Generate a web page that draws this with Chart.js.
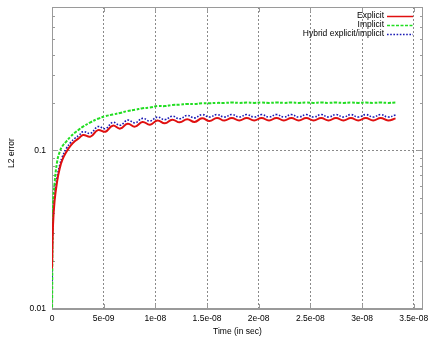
<!DOCTYPE html>
<html>
<head>
<meta charset="utf-8">
<title>L2 error vs time</title>
<script src="https://cdn.jsdelivr.net/npm/chart.js@4.4.1/dist/chart.umd.min.js"></script>
<style>
  html, body { margin: 0; padding: 0; background: #fff; }
  canvas { display: block; }
</style>
</head>
<body>
<canvas id="errChart" width="429" height="337"></canvas>
<script>
// sample times, in ns (axis labels are printed in seconds)
const timeNs = [
  0, 0.1, 0.25, 0.5, 0.75, 1.0, 1.4, 1.8, 2.2, 2.6,
  3.0, 3.72, 4.44, 5.16, 5.88, 6.6, 7.32, 8.04, 8.76, 9.48,
  10.2, 10.92, 11.64, 12.36, 13.08, 13.8, 14.52, 15.24, 15.96, 16.68,
  17.4, 18.12, 18.84, 19.56, 20.28, 21.0, 21.72, 22.44, 23.16, 23.88,
  24.6, 25.32, 26.04, 26.76, 27.48, 28.2, 28.92, 29.64, 30.36, 31.08,
  31.8, 32.52, 33.24
];
const explicitErr = [
  0.018, 0.034, 0.048, 0.064, 0.077, 0.087, 0.098, 0.107, 0.114, 0.119,
  0.125, 0.122, 0.134, 0.131, 0.143, 0.137, 0.147, 0.141, 0.151, 0.145,
  0.154, 0.148, 0.156, 0.150, 0.157, 0.151, 0.159, 0.153, 0.160, 0.154,
  0.160, 0.154, 0.160, 0.154, 0.160, 0.154, 0.160, 0.154, 0.160, 0.154,
  0.160, 0.154, 0.160, 0.154, 0.160, 0.154, 0.160, 0.154, 0.160, 0.154,
  0.160, 0.154, 0.159
];
const implicitErr = [
  0.009, 0.045, 0.062, 0.085, 0.098, 0.106, 0.114, 0.122, 0.129, 0.135,
  0.141, 0.150, 0.158, 0.164, 0.168, 0.172, 0.177, 0.180, 0.184, 0.186,
  0.190, 0.190, 0.193, 0.194, 0.196, 0.196, 0.198, 0.198, 0.199, 0.199,
  0.200, 0.199, 0.200, 0.199, 0.200, 0.199, 0.200, 0.199, 0.200, 0.199,
  0.200, 0.199, 0.200, 0.199, 0.200, 0.199, 0.200, 0.199, 0.200, 0.199,
  0.200, 0.199, 0.200
];
const hybridErr = [
  0.015, 0.036, 0.051, 0.068, 0.081, 0.091, 0.103, 0.112, 0.119, 0.124,
  0.131, 0.128, 0.141, 0.137, 0.150, 0.144, 0.155, 0.149, 0.159, 0.153,
  0.162, 0.156, 0.164, 0.158, 0.166, 0.160, 0.168, 0.162, 0.168, 0.162,
  0.168, 0.162, 0.168, 0.162, 0.168, 0.162, 0.168, 0.162, 0.168, 0.162,
  0.168, 0.162, 0.168, 0.162, 0.168, 0.162, 0.168, 0.162, 0.168, 0.162,
  0.168, 0.162, 0.167
];

const seriesNames = ['Explicit', 'Implicit', 'Hybrid explicit/implicit'];
const xTickValues = [0, 5, 10, 15, 20, 25, 30, 35];
const xTickLabels = ['0', '5e-09', '1e-08', '1.5e-08', '2e-08', '2.5e-08', '3e-08', '3.5e-08'];
const yTickValues = [0.01, 0.1];
const yTickLabels = ['0.01', '0.1'];
const yMinorValues = [0.02, 0.03, 0.04, 0.05, 0.06, 0.07, 0.08, 0.09,
                      0.2, 0.3, 0.4, 0.5, 0.6, 0.7];

const FONT = '"Liberation Sans", Arial, sans-serif';
const frameColor = '#9a9a9a';
const gridColor = '#8a8a8a';

const toPoints = vals => vals.map((v, i) => ({ x: timeNs[i], y: v }));

const lineStyles = [
  { color: '#e01010', width: 2, dash: [] },
  { color: '#22dd22', width: 2, dash: [3, 1.5] },
  { color: '#1a1ab4', width: 1.6, dash: [1.6, 1.6] }
];

// border, inward tick marks and the gnuplot style key
const framePlugin = {
  id: 'gnuFrame',
  beforeDatasetsDraw(chart) {
    const { ctx, chartArea: a, scales: { x, y } } = chart;
    ctx.save();
    ctx.strokeStyle = frameColor;
    ctx.lineWidth = 1;
    ctx.setLineDash([]);
    ctx.beginPath();
    // minor ticks, both sides
    yMinorValues.forEach(v => {
      const py = Math.round(y.getPixelForValue(v)) + 0.5;
      ctx.moveTo(a.left, py); ctx.lineTo(a.left + 3, py);
      ctx.moveTo(a.right, py); ctx.lineTo(a.right - 3, py);
    });
    yTickValues.forEach(v => {
      const py = Math.round(y.getPixelForValue(v)) + 0.5;
      ctx.moveTo(a.left, py); ctx.lineTo(a.left + 6, py);
      ctx.moveTo(a.right, py); ctx.lineTo(a.right - 6, py);
    });
    xTickValues.forEach(v => {
      const px = Math.round(x.getPixelForValue(v)) + 0.5;
      ctx.moveTo(px, a.bottom); ctx.lineTo(px, a.bottom - 5);
      ctx.moveTo(px, a.top); ctx.lineTo(px, a.top + 5);
    });
    ctx.stroke();
    ctx.strokeRect(a.left + 0.5, a.top + 0.5, a.right - a.left - 1, a.bottom - a.top);
    ctx.lineWidth = 2;
    ctx.beginPath();
    ctx.moveTo(a.left, a.bottom); ctx.lineTo(a.right, a.bottom);
    ctx.stroke();
    ctx.restore();
  },
  afterDraw(chart) {
    const { ctx } = chart;
    ctx.save();
    ctx.font = '8.5px ' + FONT;
    ctx.fillStyle = '#000';
    ctx.textAlign = 'right';
    ctx.textBaseline = 'middle';
    seriesNames.forEach((name, i) => {
      const yy = 16 + i * 9;
      const st = lineStyles[i];
      ctx.fillText(name, 384, yy);
      ctx.strokeStyle = st.color;
      ctx.lineWidth = st.width === 2 ? 1.5 : st.width;
      ctx.setLineDash(st.dash);
      ctx.beginPath();
      ctx.moveTo(387, yy + 0.5);
      ctx.lineTo(413, yy + 0.5);
      ctx.stroke();
    });
    // y axis label, rotated
    ctx.translate(12, 153);
    ctx.rotate(-Math.PI / 2);
    ctx.textAlign = 'center';
    ctx.fillText('L2 error', 0, 0);
    ctx.restore();
  }
};

Chart.defaults.font.family = FONT;
Chart.defaults.color = '#000';

new Chart(document.getElementById('errChart'), {
  type: 'line',
  data: {
    datasets: [explicitErr, implicitErr, hybridErr].map((vals, i) => ({
      label: seriesNames[i],
      data: toPoints(vals),
      borderColor: lineStyles[i].color,
      borderWidth: lineStyles[i].width,
      borderDash: lineStyles[i].dash,
      pointRadius: 0,
      tension: 0.45,
      fill: false
    }))
  },
  options: {
    responsive: false,
    animation: false,
    layout: { padding: { top: 7, right: 6, left: 0, bottom: 0 } },
    plugins: { legend: { display: false }, tooltip: { enabled: false } },
    scales: {
      x: {
        type: 'linear',
        min: 0,
        max: 35.9,
        afterBuildTicks: s => { s.ticks = xTickValues.map(v => ({ value: v })); },
        afterFit: s => { s.height = 28; s.paddingLeft = 0; s.paddingRight = 0; },
        ticks: {
          autoSkip: false,
          maxRotation: 0,
          padding: 5,
          font: { size: 8.5 },
          callback: (v, i) => xTickLabels[i]
        },
        grid: { color: gridColor, lineWidth: 1, drawTicks: false },
        border: { display: false, dash: [2, 2] },
        title: {
          display: true,
          text: 'Time (in sec)',
          font: { size: 8.5 },
          padding: { top: 0, bottom: 0 }
        }
      },
      y: {
        type: 'logarithmic',
        min: 0.01,
        max: 0.8,
        afterBuildTicks: s => { s.ticks = yTickValues.map(v => ({ value: v })); },
        afterFit: s => { s.width = 52; s.paddingTop = 0; s.paddingBottom = 0; },
        ticks: {
          padding: 6,
          font: { size: 8.5 },
          callback: (v, i) => yTickLabels[i]
        },
        grid: {
          drawTicks: false,
          lineWidth: 1,
          color: c => (c.tick && c.tick.value === 0.1 ? gridColor : 'rgba(0,0,0,0)')
        },
        border: { display: false, dash: [2, 2] }
      }
    }
  },
  plugins: [framePlugin]
});
</script>
</body>
</html>
